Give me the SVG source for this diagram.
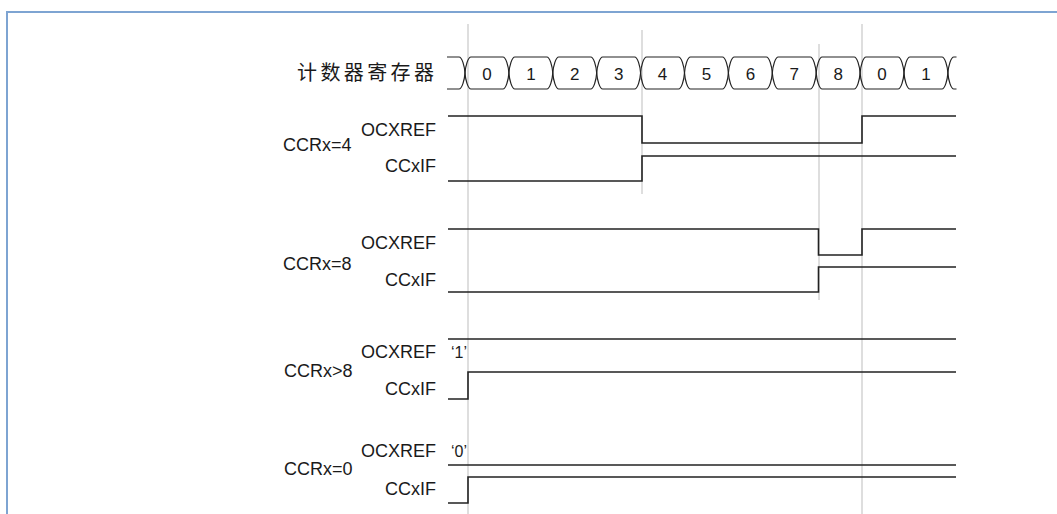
<svg xmlns="http://www.w3.org/2000/svg" width="1057" height="514" viewBox="0 0 1057 514">
<style>
.lbl{font-family:"Liberation Sans",Arial,sans-serif;font-size:18px;fill:#1a1a1a}
.sig{text-anchor:end}
.q{font-family:"Liberation Sans",Arial,sans-serif;font-size:16px;fill:#1a1a1a}
.cjk{font-family:"Noto Sans CJK SC","Noto Sans",sans-serif;font-size:20px;letter-spacing:3.4px;fill:#1a1a1a}
.num{font-family:"Liberation Sans",Arial,sans-serif;font-size:17px;fill:#1a1a1a;text-anchor:middle}
.wave{fill:none;stroke:#222;stroke-width:1.6}
.bus{fill:none;stroke:#222;stroke-width:1.2}
.guide{stroke:#c8c8c8;stroke-width:1.2}
.frame{fill:none;stroke:#7ea4d2;stroke-width:2}
</style>
<rect width="1057" height="514" fill="#fff"/>
<path class="frame" d="M7,514 V12 H1057"/>
<g id="connectors">
<line class="guide" x1="468" y1="24" x2="468" y2="514"/>
<line class="guide" x1="642" y1="30" x2="642" y2="194"/>
<line class="guide" x1="819" y1="44" x2="819" y2="300"/>
<line class="guide" x1="862" y1="24" x2="862" y2="514"/>
</g>
<g id="counter">
<text class="cjk" x="297" y="80">计数器寄存器</text>
<g class="bus">
<path d="M447,57 H459 C462,57 464.5,66 465,73 C464.5,80 462,89 459,89 H447"/>
<path d="M465,73 C465.5,66 468,57 471,57 H502.9 C505.9,57 508.4,66 508.9,73 C508.4,80 505.9,89 502.9,89 H471 C468,89 465.5,80 465,73 Z"/>
<path d="M508.9,73 C509.4,66 511.9,57 514.9,57 H546.8 C549.8,57 552.3,66 552.8,73 C552.3,80 549.8,89 546.8,89 H514.9 C511.9,89 509.4,80 508.9,73 Z"/>
<path d="M552.8,73 C553.3,66 555.8,57 558.8,57 H590.7 C593.7,57 596.2,66 596.7,73 C596.2,80 593.7,89 590.7,89 H558.8 C555.8,89 553.3,80 552.8,73 Z"/>
<path d="M596.7,73 C597.2,66 599.7,57 602.7,57 H634.6 C637.6,57 640.1,66 640.6,73 C640.1,80 637.6,89 634.6,89 H602.7 C599.7,89 597.2,80 596.7,73 Z"/>
<path d="M640.6,73 C641.1,66 643.6,57 646.6,57 H678.5 C681.5,57 684,66 684.5,73 C684,80 681.5,89 678.5,89 H646.6 C643.6,89 641.1,80 640.6,73 Z"/>
<path d="M684.5,73 C685,66 687.5,57 690.5,57 H722.4 C725.4,57 727.9,66 728.4,73 C727.9,80 725.4,89 722.4,89 H690.5 C687.5,89 685,80 684.5,73 Z"/>
<path d="M728.4,73 C728.9,66 731.4,57 734.4,57 H766.3 C769.3,57 771.8,66 772.3,73 C771.8,80 769.3,89 766.3,89 H734.4 C731.4,89 728.9,80 728.4,73 Z"/>
<path d="M772.3,73 C772.8,66 775.3,57 778.3,57 H810.2 C813.2,57 815.7,66 816.2,73 C815.7,80 813.2,89 810.2,89 H778.3 C775.3,89 772.8,80 772.3,73 Z"/>
<path d="M816.2,73 C816.7,66 819.2,57 822.2,57 H854.1 C857.1,57 859.6,66 860.1,73 C859.6,80 857.1,89 854.1,89 H822.2 C819.2,89 816.7,80 816.2,73 Z"/>
<path d="M860.1,73 C860.6,66 863.1,57 866.1,57 H898 C901,57 903.5,66 904,73 C903.5,80 901,89 898,89 H866.1 C863.1,89 860.6,80 860.1,73 Z"/>
<path d="M904,73 C904.5,66 907,57 910,57 H941.9 C944.9,57 947.4,66 947.9,73 C947.4,80 944.9,89 941.9,89 H910 C907,89 904.5,80 904,73 Z"/>
<path d="M956.5,57 H953.9 C950.9,57 948.4,66 947.9,73 C948.4,80 950.9,89 953.9,89 H956.5"/>
</g>
<text class="num" x="487" y="79.5">0</text>
<text class="num" x="530.9" y="79.5">1</text>
<text class="num" x="574.8" y="79.5">2</text>
<text class="num" x="618.7" y="79.5">3</text>
<text class="num" x="662.6" y="79.5">4</text>
<text class="num" x="706.5" y="79.5">5</text>
<text class="num" x="750.4" y="79.5">6</text>
<text class="num" x="794.3" y="79.5">7</text>
<text class="num" x="838.2" y="79.5">8</text>
<text class="num" x="882.1" y="79.5">0</text>
<text class="num" x="926" y="79.5">1</text>
</g>
<g id="row-ccr4">
<text class="lbl" x="283" y="151">CCRx=4</text>
<text class="lbl sig" x="436" y="136">OCXREF</text>
<text class="lbl sig" x="436" y="172">CCxIF</text>
<path class="wave" d="M448,116 H642 V143 H862 V116 H956"/>
<path class="wave" d="M448,181 H642 V156 H956"/>
</g>
<g id="row-ccr8">
<text class="lbl" x="283" y="270">CCRx=8</text>
<text class="lbl sig" x="436" y="249">OCXREF</text>
<text class="lbl sig" x="436" y="286">CCxIF</text>
<path class="wave" d="M448,229 H818.5 V255 H862 V229 H956"/>
<path class="wave" d="M448,292 H818.5 V267 H956"/>
</g>
<g id="row-ccrgt8">
<text class="lbl" x="284" y="377">CCRx&gt;8</text>
<text class="lbl sig" x="436" y="358">OCXREF</text>
<text class="q" x="451" y="358">‘1’</text>
<text class="lbl sig" x="436" y="395">CCxIF</text>
<path class="wave" d="M448,339 H956"/>
<path class="wave" d="M448,399 H468 V372 H956"/>
</g>
<g id="row-ccr0">
<text class="lbl" x="284" y="475">CCRx=0</text>
<text class="lbl sig" x="436" y="457">OCXREF</text>
<text class="q" x="451" y="457">‘0’</text>
<text class="lbl sig" x="436" y="495">CCxIF</text>
<path class="wave" d="M448,465 H956"/>
<path class="wave" d="M448,503 H468 V477 H956"/>
</g>
</svg>
